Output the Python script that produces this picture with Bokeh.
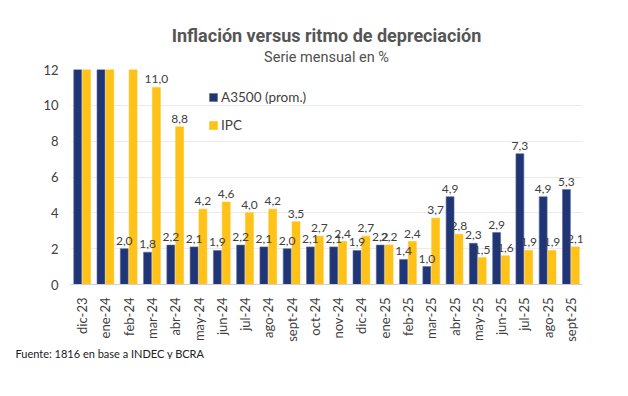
import math
from bokeh.plotting import figure
from bokeh.models import ColumnDataSource, Legend, LegendItem, Title, FactorRange
from bokeh.core.properties import value
from bokeh.transform import dodge
from bokeh.embed import file_html
from bokeh.resources import INLINE

months = ["dic-23", "ene-24", "feb-24", "mar-24", "abr-24", "may-24", "jun-24", "jul-24",
          "ago-24", "sept-24", "oct-24", "nov-24", "dic-24", "ene-25", "feb-25", "mar-25",
          "abr-25", "may-25", "jun-25", "jul-25", "ago-25", "sept-25"]
a3500 = [78.0, 29.0, 2.0, 1.8, 2.2, 2.1, 1.9, 2.2, 2.1, 2.0, 2.1, 2.1, 1.9, 2.2, 1.4, 1.0,
         4.9, 2.3, 2.9, 7.3, 4.9, 5.3]
ipc = [25.5, 20.6, 13.2, 11.0, 8.8, 4.2, 4.6, 4.0, 4.2, 3.5, 2.7, 2.4, 2.7, 2.2, 2.4, 3.7,
       2.8, 1.5, 1.6, 1.9, 1.9, 2.1]
y_max = 12

NAVY = "#1f3576"
YELLOW = "#ffc219"
FONT = "Lato"

def lab(vals):
    return [f"{v:.1f}".replace(".", ",") if v <= y_max else "" for v in vals]

src = ColumnDataSource(dict(
    m=months, a=a3500, i=ipc,
    a_clip=[min(v, y_max) for v in a3500], i_clip=[min(v, y_max) for v in ipc],
    la=lab(a3500), li=lab(ipc)))

p = figure(x_range=FactorRange(*months), y_range=(0, y_max),
           frame_width=512, frame_height=215,
           min_border_left=70, min_border_right=30, min_border_top=10, min_border_bottom=10,
           output_backend="svg", toolbar_location=None, background_fill_color="white",
           border_fill_color="white")
p.outline_line_color = None

off = 0.19
bw = 0.34
ra = p.vbar(x=dodge("m", -off, range=p.x_range), top="a_clip", width=bw, source=src,
            fill_color=NAVY, line_color="#5a6a9a", line_width=0.6)
ri = p.vbar(x=dodge("m", off, range=p.x_range), top="i_clip", width=bw, source=src,
            fill_color=YELLOW, line_color=YELLOW, line_width=0.6)

p.text(x=dodge("m", -off, range=p.x_range), y="a_clip", text="la", source=src,
       text_align="center", text_baseline="bottom", y_offset=-4,
       text_font=value(FONT), text_font_size="12px", text_color="#404040")
p.text(x=dodge("m", off, range=p.x_range), y="i_clip", text="li", source=src,
       text_align="center", text_baseline="bottom", y_offset=-4,
       text_font=value(FONT), text_font_size="12px", text_color="#404040")

legend = Legend(items=[LegendItem(label="A3500 (prom.)", renderers=[ra]),
                       LegendItem(label="IPC", renderers=[ri])],
                location=(138, 151), orientation="vertical",
                label_text_font=FONT, label_text_font_size="13.5px", label_text_color="#404040",
                glyph_width=10, glyph_height=10, spacing=12, padding=0, margin=0,
                background_fill_alpha=0, border_line_color=None, label_standoff=3)
p.add_layout(legend)

p.yaxis.ticker = [0, 2, 4, 6, 8, 10, 12]
p.yaxis.axis_line_color = None
p.yaxis.major_tick_line_color = None
p.yaxis.minor_tick_line_color = None
p.yaxis.major_label_text_font = FONT
p.yaxis.major_label_text_font_size = "13px"
p.yaxis.major_label_text_color = "#404040"
p.yaxis.major_label_standoff = 6

p.xaxis.axis_line_color = "#d0d0d0"
p.xaxis.major_tick_line_color = None
p.xaxis.minor_tick_line_color = None
p.xaxis.major_label_orientation = math.pi / 2
p.xaxis.major_label_text_font = FONT
p.xaxis.major_label_text_font_size = "13px"
p.xaxis.major_label_text_color = "#404040"
p.xaxis.major_label_standoff = 7
p.xgrid.grid_line_color = None
p.ygrid.grid_line_color = "#ececec"

foot = Title(text="Fuente: 1816 en base a INDEC y BCRA", align="left", offset=-55,
             text_font=FONT, text_font_size="11px", text_font_style="normal",
             text_color="#202020", standoff=0)
p.add_layout(foot, "below")

sub = Title(text="Serie mensual en %", align="center", offset=-10,
            text_font="Roboto", text_font_size="14.5px", text_font_style="normal",
            text_color="#505050", standoff=7)
p.add_layout(sub, "above")
tit = Title(text="Inflación versus ritmo de depreciación", align="center", offset=-10,
            text_font="Roboto", text_font_size="18px", text_font_style="bold",
            text_color="#555555", standoff=-4)
p.add_layout(tit, "above")
spacer = Title(text=" ", text_font_size="20px", standoff=0)
p.add_layout(spacer, "above")

open("out.html", "w").write(file_html(p, INLINE))
